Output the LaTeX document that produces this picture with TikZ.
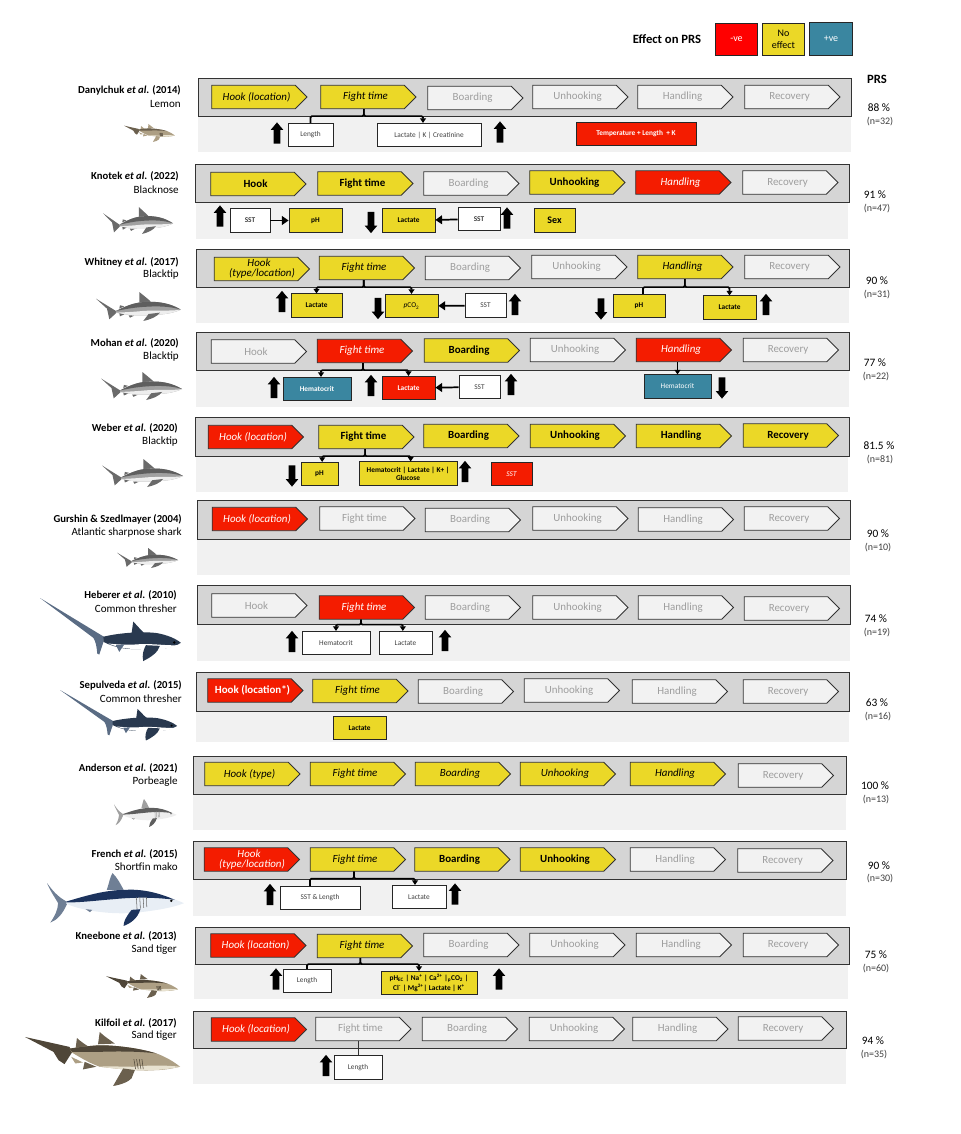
\documentclass[tikz,border=0pt]{standalone}
\usepackage{amsmath}
\usepackage{amssymb}
\usepackage{fontspec}
\setmainfont{Carlito}
\usepackage{tikz}
\usetikzlibrary{shapes.symbols,shapes.arrows,arrows.meta}
\definecolor{yel}{HTML}{EBD827}
\definecolor{rdd}{HTML}{F41C00}
\definecolor{tea}{HTML}{3A86A0}
\definecolor{barg}{HTML}{D5D5D5}
\definecolor{bandg}{HTML}{F1F1F1}
\definecolor{offg}{HTML}{F2F2F2}
\definecolor{grytop}{HTML}{5E5E5E}
\definecolor{grymid}{HTML}{A0A0A0}
\definecolor{grybel}{HTML}{EEEEEE}
\definecolor{gryfin}{HTML}{6A6A6A}
\definecolor{tantop}{HTML}{4F4638}
\definecolor{tanmid}{HTML}{AD9F84}
\definecolor{tanbel}{HTML}{E8E2D0}
\definecolor{tanfin}{HTML}{6B604E}
\definecolor{thrtop}{HTML}{29394F}
\definecolor{thrfin}{HTML}{5A6C84}
\definecolor{maktop}{HTML}{1C335D}
\definecolor{makbel}{HTML}{E8EEF5}
\definecolor{makfin}{HTML}{6F7F95}
\begin{document}
\begin{tikzpicture}[x=0.75pt,y=-0.75pt,
  chev/.style={signal,signal to=east,signal pointer angle=90,xshift=-4.1pt,draw=black!80,line width=0.6pt,minimum width=71.5pt,minimum height=17.5pt,inner sep=0pt,align=center,font=\fontsize{8.2}{8.5}\selectfont,execute at begin node={\hspace*{4.5pt}}},
  chy/.style={chev,fill=yel,text=black},
  chr/.style={chev,fill=rdd,text=white},
  chn/.style={chev,fill=offg,text=black!38},
  cbox/.style={rectangle,draw=black!85,line width=0.6pt,minimum width=#1*0.75pt,minimum height=17.5pt,inner sep=0pt,align=center,font=\fontsize{5.5}{6}\selectfont},
  whb/.style={cbox=#1,fill=white,text=black!75},
  ylb/.style={cbox=#1,fill=yel,text=black,font=\fontsize{5.5}{6}\selectfont\bfseries},
  rdb/.style={cbox=#1,fill=rdd,text=white,font=\fontsize{5.5}{6}\selectfont\bfseries},
  blb/.style={cbox=#1,fill=tea,text=white,font=\fontsize{5.5}{6}\selectfont\bfseries},
  lgd/.style={rectangle,draw=black!85,line width=0.6pt,minimum width=32pt,minimum height=24.5pt,inner sep=0pt,align=center,font=\fontsize{7.5}{9}\selectfont},
  uparr/.style={single arrow,rotate=90,fill=black,minimum height=16pt,inner sep=2.25pt,single arrow head extend=2.25pt,single arrow tip angle=80,single arrow head indent=0pt},
  dnarr/.style={uparr,rotate=180},
  bar/.style={draw=black!80,line width=0.7pt,fill=barg},
  band/.style={fill=bandg},
  conn/.style={draw=black,line width=1.2pt,rounded corners=1pt},
  ctip/.style={conn,-{Triangle[length=3.5pt,width=4.5pt]}},
  link/.style={draw=black,line width=1.3pt,-{Triangle[length=5pt,width=6.5pt]}},
  refn/.style={anchor=east,inner sep=0pt,font=\fontsize{8}{9}\selectfont\bfseries},
  spcn/.style={anchor=east,inner sep=0pt,font=\fontsize{8.3}{9}\selectfont},
  pctn/.style={inner sep=0pt,font=\fontsize{8.5}{9}\selectfont},
  cntn/.style={inner sep=0pt,text=black!75,font=\fontsize{7.5}{9}\selectfont},
  skin/.code args={#1/#2/#3/#4}{\colorlet{sktop}{#1}\colorlet{skmid}{#2}\colorlet{skbel}{#3}\colorlet{skfin}{#4}},
  shark/.pic={
    \fill[skfin] (0,20) -- (60,57) -- (62,62) -- (40,82) -- (37,68) -- (33,50) -- cycle;
    \fill[skfin] (130,32) -- (130,0) .. controls (140,8) and (155,20) .. (165,29) -- cycle;
    \fill[skfin] (70,50) -- (72,40) -- (85,43) -- cycle;
    \fill[skmid] (60,57) .. controls (85,45) and (110,32) .. (145,30) .. controls (190,27) and (225,35) .. (255,53) .. controls (235,62) and (210,67) .. (185,68) .. controls (150,72) and (100,72) .. (60,62) -- cycle;
    \fill[sktop] (60,57) .. controls (85,45) and (110,32) .. (145,30) .. controls (190,27) and (225,35) .. (255,53) .. controls (220,42) and (180,42) .. (140,45) .. controls (110,47) and (85,52) .. (60,57) -- cycle;
    \fill[skbel] (255,53) .. controls (225,58) and (180,54) .. (140,57) .. controls (110,60) and (85,61) .. (60,62) .. controls (100,72) and (150,72) .. (185,68) .. controls (210,67) and (235,62) .. (255,53) -- cycle;
    \fill[skfin] (158,66) -- (142,87) .. controls (165,82) and (182,75) .. (192,62) -- cycle;
    \fill[skfin] (70,64) -- (72,73) -- (85,67) -- cycle;
    \fill[skfin] (98,70) -- (102,77) -- (115,71) -- cycle;
  },
  thresher/.pic={
    \fill[skfin] (0,0) -- (192,115) -- (190,132) -- (178,168) -- (172,165) .. controls (170,145) and (168,130) .. (160,118) -- cycle;
    \fill[sktop] (275,105) -- (280,70) .. controls (290,80) and (300,92) .. (312,103) -- cycle;
    \fill[sktop] (190,115) .. controls (230,105) and (300,98) .. (350,104) .. controls (385,110) and (410,122) .. (423,133) .. controls (400,148) and (360,155) .. (320,150) .. controls (270,155) and (230,150) .. (190,130) -- cycle;
    \fill[skbel] (415,140) .. controls (380,142) and (340,135) .. (300,137) .. controls (265,140) and (230,138) .. (205,135) .. controls (240,150) and (290,155) .. (320,150) .. controls (360,155) and (395,150) .. (415,140) -- cycle;
    \fill[sktop] (318,140) .. controls (310,155) and (306,170) .. (310,187) .. controls (335,175) and (355,160) .. (360,142) -- cycle;
    \fill[skfin] (228,140) -- (238,160) -- (253,138) -- cycle;
    \fill[black] (403,132) circle (4);
  },
  mako/.pic={
    \fill[skfin] (0,30) .. controls (15,50) and (30,70) .. (58,85) -- (60,92) .. controls (45,125) and (30,140) .. (10,148) .. controls (25,125) and (32,110) .. (33,90) .. controls (25,75) and (10,55) .. (0,30) -- cycle;
    \fill[skfin] (178,50) .. controls (185,30) and (188,10) .. (195,0) .. controls (210,15) and (220,35) .. (228,50) -- cycle;
    \fill[skbel] (58,85) .. controls (110,70) and (170,50) .. (240,50) .. controls (300,48) and (360,70) .. (408,90) .. controls (370,105) and (320,112) .. (270,118) .. controls (200,125) and (110,115) .. (58,92) -- cycle;
    \fill[sktop] (58,85) .. controls (110,70) and (170,50) .. (240,50) .. controls (290,48) and (340,62) .. (380,80) .. controls (320,72) and (260,72) .. (200,78) .. controls (150,82) and (100,88) .. (58,88) -- cycle;
    \fill[sktop] (252,110) .. controls (235,130) and (228,145) .. (228,158) .. controls (250,150) and (270,135) .. (278,108) -- cycle;
    \fill[skfin] (115,108) -- (128,117) -- (135,110) -- cycle;
    \draw[skmid,line width=0.4pt] (266,72) -- (268,108) (276,72) -- (278,106) (286,72) -- (288,104) (296,72) -- (297,102);
    \fill[black] (370,83) circle (4);
  },
  tiger/.pic={
    \fill[sktop] (0,15) -- (133,45) -- (140,62) -- (118,97) -- (100,85) -- (85,60) -- cycle;
    \fill[skfin] (218,37) -- (223,0) .. controls (235,12) and (255,25) .. (268,35) -- cycle;
    \fill[skfin] (151,50) -- (155,18) .. controls (165,28) and (180,38) .. (191,45) -- cycle;
    \fill[skmid] (133,50) .. controls (170,45) and (190,42) .. (223,40) .. controls (270,40) and (340,48) .. (393,65) .. controls (420,75) and (445,90) .. (463,105) .. controls (440,110) and (415,115) .. (393,115) .. controls (360,118) and (330,115) .. (323,115) .. controls (280,112) and (250,108) .. (223,105) .. controls (195,95) and (170,80) .. (140,62) -- cycle;
    \fill[sktop] (133,50) .. controls (170,45) and (190,42) .. (223,40) .. controls (270,40) and (340,48) .. (393,65) .. controls (345,58) and (270,58) .. (223,60) .. controls (190,60) and (165,60) .. (140,60) -- cycle;
    \fill[skbel] (463,105) .. controls (420,100) and (370,100) .. (323,105) .. controls (280,105) and (250,102) .. (223,105) .. controls (250,108) and (280,112) .. (323,115) .. controls (360,118) and (415,115) .. (463,105) -- cycle;
    \fill[skfin] (293,110) -- (263,163) .. controls (285,160) and (310,150) .. (318,140) -- (328,115) -- cycle;
    \fill[skmid] (138,75) -- (150,95) -- (173,92) -- cycle;
    \fill[skfin] (178,90) -- (173,113) -- (213,105) -- cycle;
    \draw[sktop,line width=0.4pt] (325,82) -- (330,112) (333,82) -- (338,112) (341,82) -- (346,112) (349,82) -- (353,112);
  }]
\useasboundingbox (0,0) rectangle (960,1134);
% legend
\node [inner sep=0pt,font=\fontsize{9.5}{10}\selectfont\bfseries] (eff) at (667,39) {Effect on PRS};
\node [lgd,fill=red,text=white] (neg) at (736.5,39.5) {-ve};
\node [lgd,fill=yel] (noe) at (783.5,39.5) {No\\effect};
\node [lgd,fill=tea,text=white] (pos) at (831,39) {+ve};
\node [inner sep=0pt,font=\fontsize{9.5}{10}\selectfont\bfseries] (prs) at (877,79) {PRS};

% Danylchuk
\fill[band] (198,116) rectangle (851,152);
\draw[bar] (198,78) rectangle (851,116);
\node [refn] (t1) at (181,90) {Danylchuk \textit{et al}. (2014)};
\node [spcn] (c1) at (181,104) {Lemon};
\path (124,124) pic[skin=tanfin/tanmid/tanbel/tanmid,xscale=0.11,yscale=0.11] {tiger};
\node [chy] (h1) at (259,97) {\textit{Hook (location)}};
\node [chy] (f1) at (368,97) {\textit{Fight time}};
\node [chn] (bd1) at (475,98) {Boarding};
\node [chn] (u1) at (580,97) {Unhooking};
\node [chn] (hd1) at (685,97) {Handling};
\node [chn] (r1) at (792,97) {Recovery};
\node [uparr] (a1a) at (277,135) {};
\node [whb=45] (ln1) at (310.5,135) {Length};
\node [whb=104] (lk1) at (429,135) {Lactate | K | Creatinine};
\node [uparr] (a1b) at (500,134) {};
\node [rdb=120] (tp1) at (636,134) {Temperature + Length\ \ + K};
\draw[conn] ([xshift=1pt]f1.south) -- ++(0,7) -| (ln1.north);
\draw[ctip] ([xshift=1pt]f1.south) -- ++(0,7) -| ([xshift=-4.5pt]lk1.north);
\node [pctn] (p1) at (879,108) {88 \%};
\node [cntn] (n1) at (880,122) {(n=32)};

% Knotek
\fill[band] (196,202) rectangle (848,239);
\draw[bar] (195,164) rectangle (849,202);
\node [refn] (t2) at (179,176) {Knotek \textit{et al}. (2022)};
\node [spcn] (c2) at (179,190) {Blacknose};
\path (103,207) pic[skin=grytop/grymid/grybel/gryfin,xscale=0.275,yscale=0.31] {shark};
\node [chy] (h2) at (258,184) {\textbf{Hook}};
\node [chy] (f2) at (365,183.5) {\textbf{Fight time}};
\node [chn] (bd2) at (471,183.5) {Boarding};
\node [chy] (u2) at (577,182.5) {\textbf{Unhooking}};
\node [chr] (hd2) at (683,182.5) {\textit{Handling}};
\node [chn] (r2) at (790,182.5) {Recovery};
\node [uparr] (a2a) at (220,218) {};
\node [whb=40,font=\fontsize{5.5}{6}\selectfont\bfseries] (s2a) at (250,220.5) {SST};
\node [ylb=53] (ph2) at (315.5,220.5) {pH};
\node [dnarr] (a2b) at (371,220.5) {};
\node [ylb=53] (lc2) at (408.5,220.5) {Lactate};
\node [whb=42,font=\fontsize{5.5}{6}\selectfont\bfseries] (s2b) at (479,219) {SST};
\node [uparr] (a2c) at (507,220) {};
\node [ylb=41,font=\fontsize{7.5}{8}\selectfont\bfseries] (sx2) at (554.5,220.5) {Sex};
\draw[link] (s2a) -- (ph2);
\draw[link] (s2b) -- (lc2);
\node [pctn] (p2) at (875,195) {91 \%};
\node [cntn] (n2) at (877,209) {(n=47)};

% Whitney
\fill[band] (196,287) rectangle (849,323);
\draw[bar] (196,249) rectangle (849,287);
\node [refn] (t3) at (179,262) {Whitney \textit{et al}. (2017)};
\node [spcn] (c3) at (179,275) {Blacktip};
\path (96,292) pic[skin=grytop/grymid/grybel/gryfin,xscale=0.333,yscale=0.333] {shark};
\node [chy] (h3) at (261.5,269) {\textit{Hook}\\[-1pt]\hspace*{4.5pt}\textit{(type/location)}};
\node [chy] (f3) at (366.5,268) {\textit{Fight time}};
\node [chn] (bd3) at (472.5,268) {Boarding};
\node [chn] (u3) at (579,267) {Unhooking};
\node [chy] (hd3) at (685,267) {\textit{Handling}};
\node [chn] (r3) at (792,267) {Recovery};
\node [uparr] (a3a) at (282,303.5) {};
\node [ylb=51] (lc3a) at (316.5,305.5) {Lactate};
\node [dnarr] (a3b) at (378,306.5) {};
\node [ylb=53,font=\fontsize{5.5}{6}\selectfont] (pc3) at (411.5,306) {\textit{p}CO\textsubscript{2}};
\node [whb=41] (s3) at (485.5,305.5) {SST};
\node [uparr] (a3c) at (515,306.5) {};
\node [dnarr] (a3d) at (601,307) {};
\node [ylb=52] (ph3) at (639,306) {pH};
\node [ylb=53] (lc3b) at (729.5,307.5) {Lactate};
\node [uparr] (a3e) at (766,306.5) {};
\draw[ctip] ([xshift=2pt]f3.south) -- ++(0,7) -| (lc3a.north);
\draw[ctip] ([xshift=2pt]f3.south) -- ++(0,7) -| (pc3.north);
\draw[conn] ([xshift=4pt]hd3.south) -- ++(0,8) -| ([xshift=3pt]ph3.north);
\draw[ctip] ([xshift=4pt]hd3.south) -- ++(0,8) -| (lc3b.north);
\draw[link] (s3) -- (pc3);
\node [pctn] (p3) at (877,281) {90 \%};
\node [cntn] (n3) at (877,295) {(n=31)};

% Mohan
\fill[band] (196,370) rectangle (849,407);
\draw[bar] (196,332) rectangle (849,370);
\node [refn] (t4) at (179,343) {Mohan \textit{et al}. (2020)};
\node [spcn] (c4) at (179,357) {Blacktip};
\path (101,372) pic[skin=grytop/grymid/grybel/gryfin,xscale=0.318,yscale=0.322] {shark};
\node [chn] (h4) at (258.5,351.5) {Hook};
\node [chr] (f4) at (364.5,351) {\textit{Fight time}};
\node [chy] (bd4) at (471.5,350.5) {\textbf{Boarding}};
\node [chn] (u4) at (577.5,350) {Unhooking};
\node [chr] (hd4) at (683.5,350) {\textit{Handling}};
\node [chn] (r4) at (790.5,350) {Recovery};
\node [uparr] (a4a) at (274,389.5) {};
\node [blb=68] (hm4a) at (317,389) {Hematocrit};
\node [uparr] (a4b) at (371,387.5) {};
\node [rdb=53] (lc4) at (408.5,388) {Lactate};
\node [whb=41] (s4) at (479.5,387) {SST};
\node [uparr] (a4c) at (511,386.5) {};
\node [blb=67,font=\fontsize{5.5}{6}\selectfont] (hm4b) at (677.5,386.5) {Hematocrit};
\node [dnarr] (a4d) at (722,386) {};
\draw[ctip] ([xshift=3pt]f4.south) -- ++(0,7) -| ([xshift=3pt]hm4a.north);
\draw[ctip] ([xshift=3pt]f4.south) -- ++(0,7) -| (lc4.north);
\draw[ctip] (hm4b.north |- hd4.south) -- (hm4b.north);
\draw[link] (s4) -- (lc4);
\node [pctn] (p4) at (875,363) {77 \%};
\node [cntn] (n4) at (876,377) {(n=22)};

% Weber
\fill[band] (196,456) rectangle (848,492);
\draw[bar] (195,417) rectangle (849,456);
\node [refn] (t5) at (178,428) {Weber \textit{et al}. (2020)};
\node [spcn] (c5) at (178,442) {Blacktip};
\path (102,459) pic[skin=grytop/grymid/grybel/gryfin,xscale=0.318,yscale=0.322] {shark};
\node [chr] (h5) at (255.5,437) {\textit{Hook (location)}};
\node [chy] (f5) at (366,437) {\textbf{Fight time}};
\node [chy] (bd5) at (471,436) {\textbf{Boarding}};
\node [chy] (u5) at (577.5,436) {\textbf{Unhooking}};
\node [chy] (hd5) at (683.5,436) {\textbf{Handling}};
\node [chy] (r5) at (790.5,435.5) {\textbf{Recovery}};
\node [dnarr] (a5a) at (292,474) {};
\node [ylb=37] (ph5) at (319.5,474) {pH};
\node [ylb=98] (hm5) at (408,473.5) {Hematocrit | Lactate | K+ |\\Glucose};
\node [uparr] (a5b) at (465,473.5) {};
\node [rdb=41,font=\fontsize{5.5}{6}\selectfont\itshape] (s5) at (511.5,474) {SST};
\draw[ctip] ([xshift=3.4pt]f5.south) -- ++(0,7) -| ([xshift=2pt]ph5.north);
\draw[ctip] ([xshift=3.4pt]f5.south) -- ++(0,7) -| ([xshift=2pt]hm5.north);
\node [pctn] (p5) at (879,446) {81.5 \%};
\node [cntn] (n5) at (880,460) {(n=81)};

% Gurshin
\fill[band] (197,539) rectangle (850,575);
\draw[bar] (197,500) rectangle (850,539);
\node [refn] (t6) at (182,519) {Gurshin \& Szedlmayer (2004)};
\node [spcn] (c6) at (182,533) {Atlantic sharpnose shark};
\path (117,548) pic[skin=grytop/grymid/grybel/gryfin,xscale=0.24,yscale=0.23] {shark};
\node [chr] (h6) at (259.5,519) {\textit{Hook (location)}};
\node [chn] (f6) at (367,518.5) {Fight time};
\node [chn] (bd6) at (472.5,520) {Boarding};
\node [chn] (u6) at (580,518.5) {Unhooking};
\node [chn] (hd6) at (685.5,519.5) {Handling};
\node [chn] (r6) at (791.5,518.5) {Recovery};
\node [pctn] (p6) at (878,534) {90 \%};
\node [cntn] (n6) at (878,548) {(n=10)};

% Heberer
\fill[band] (197,624) rectangle (850,661);
\draw[bar] (197,585) rectangle (850,624);
\node [refn] (t7) at (177,595) {Heberer \textit{et al}. (2010)};
\node [spcn] (c7) at (177,609) {Common thresher};
\path (40,598) pic[skin=thrtop/thrfin/white/thrfin,xscale=0.333,yscale=0.337] {thresher};
\node [chn] (h7) at (259,605.5) {Hook};
\node [chr] (f7) at (366.5,607.5) {\textit{Fight time}};
\node [chn] (bd7) at (472.5,607.5) {Boarding};
\node [chn] (u7) at (580,607.5) {Unhooking};
\node [chn] (hd7) at (685.5,607.5) {Handling};
\node [chn] (r7) at (791.5,608.5) {Recovery};
\node [uparr] (a7a) at (292,643.5) {};
\node [whb=68] (hm7) at (336,643) {Hematocrit};
\node [whb=53] (lc7) at (405.5,643) {Lactate};
\node [uparr] (a7b) at (445,642.5) {};
\draw[ctip] (f7.south) -- ++(0,5) -| (hm7.north);
\draw[ctip] (f7.south) -- ++(0,5) -| ([xshift=-2pt]lc7.north);
\node [pctn] (p7) at (876,619) {74 \%};
\node [cntn] (n7) at (877,633) {(n=19)};

% Sepulveda
\fill[band] (196,711) rectangle (849,742);
\draw[bar] (196,672) rectangle (849,711);
\node [refn] (t8) at (182,685) {Sepulveda \textit{et al}. (2015)};
\node [spcn] (c8) at (182,699) {Common thresher};
\path (60,690) pic[skin=thrtop/thrfin/white/thrfin,xscale=0.277,yscale=0.27] {thresher};
\node [chr] (h8) at (255,690.5) {\textbf{Hook (location*)}};
\node [chy] (f8) at (360,691) {\textit{Fight time}};
\node [chn] (bd8) at (465.5,691.5) {Boarding};
\node [chn] (u8) at (571.5,690.5) {Unhooking};
\node [chn] (hd8) at (679.5,691.5) {Handling};
\node [chn] (r8) at (790.5,691.5) {Recovery};
\node [ylb=53] (lc8) at (359.5,728) {Lactate};
\node [pctn] (p8) at (877,703) {63 \%};
\node [cntn] (n8) at (878,717) {(n=16)};

% Anderson
\fill[band] (193,794) rectangle (846,830);
\draw[bar] (193,756) rectangle (846,794);
\node [refn] (t9) at (178,768) {Anderson \textit{et al}. (2021)};
\node [spcn] (c9) at (178,782) {Porbeagle};
\path (114,799) pic[skin=grytop/grymid/grybel/grymid,xscale=0.154,yscale=0.177] {mako};
\node [chy] (h9) at (252,774) {\textit{Hook (type)}};
\node [chy] (f9) at (357.5,774) {\textit{Fight time}};
\node [chy] (bd9) at (462.5,774) {\textit{Boarding}};
\node [chy] (u9) at (567.5,774) {\textit{Unhooking}};
\node [chy] (hd9) at (677.5,774) {\textit{Handling}};
\node [chn] (r9) at (785.5,775.5) {Recovery};
\node [pctn] (p9) at (875,786) {100 \%};
\node [cntn] (n9) at (876,800) {(n=13)};

% French
\fill[band] (193,879) rectangle (846,916);
\draw[bar] (193,841) rectangle (846,879);
\node [refn] (t10) at (178,854) {French \textit{et al}. (2015)};
\node [spcn] (c10) at (178,867) {Shortfin mako};
\path (47,873) pic[skin=maktop/black!60/makbel/makfin,xscale=0.336,yscale=0.335] {mako};
\node [chr] (h10) at (251.5,859.5) {\textit{Hook}\\[-1pt]\hspace*{4.5pt}\textit{(type/location)}};
\node [chy] (f10) at (357.5,859.5) {\textit{Fight time}};
\node [chy] (bd10) at (462,859.5) {\textbf{Boarding}};
\node [chy] (u10) at (567.5,859.5) {\textbf{Unhooking}};
\node [chn] (hd10) at (677.5,859.5) {Handling};
\node [chn] (r10) at (785,860.5) {Recovery};
\node [uparr] (a10a) at (270,896.5) {};
\node [whb=80] (sl10) at (320,898) {SST \& Length};
\node [whb=54] (lc10) at (419,897) {Lactate};
\node [uparr] (a10b) at (455,896) {};
\draw[conn] ([xshift=1.5pt]f10.south) -- ++(0,7) -| ([xshift=-7.5pt]sl10.north);
\draw[ctip] ([xshift=1.5pt]f10.south) -- ++(0,7) -| ([xshift=-3pt]lc10.north);
\node [pctn] (p10) at (879,866) {90 \%};
\node [cntn] (n10) at (880,879) {(n=30)};

% Kneebone
\fill[band] (194,964) rectangle (848,999);
\draw[bar] (195,927) rectangle (849,964);
\node [refn] (t11) at (177,936) {Kneebone \textit{et al}. (2013)};
\node [spcn] (c11) at (177,950) {Sand tiger};
\path (106,974) pic[skin=tantop/tanmid/tanbel/tanfin,xscale=0.156,yscale=0.147] {tiger};
\node [chr] (h11) at (258,945.5) {\textit{Hook (location)}};
\node [chy] (f11) at (364.5,946) {\textit{Fight time}};
\node [chn] (bd11) at (471,945) {Boarding};
\node [chn] (u11) at (577,945) {Unhooking};
\node [chn] (hd11) at (683.5,945) {Handling};
\node [chn] (r11) at (790.5,945) {Recovery};
\node [uparr] (a11a) at (276,981) {};
\node [whb=48] (ln11) at (307,981) {Length};
\node [ylb=96] (mx11) at (429,983) {pH\textsubscript{EC} | Na\textsuperscript{+} | Ca\textsuperscript{2+} |\textsubscript{p}CO\textsubscript{2} |\\Cl\textsuperscript{-} | Mg\textsuperscript{2+}| Lactate | K\textsuperscript{+}};
\node [uparr] (a11b) at (499,981) {};
\draw[conn] ([xshift=1pt]f11.south) -- ++(0,6) -| (ln11.north);
\draw[ctip] ([xshift=1pt]f11.south) -- ++(0,6) -| ([xshift=-7.5pt]mx11.north);
\node [pctn] (p11) at (876,955) {75 \%};
\node [cntn] (n11) at (876,969) {(n=60)};

% Kilfoil
\fill[band] (193,1048) rectangle (846,1084);
\draw[bar] (193,1011) rectangle (846,1048);
\node [refn] (t12) at (177,1023) {Kilfoil \textit{et al}. (2017)};
\node [spcn] (c12) at (177,1036) {Sand tiger};
\path (25,1032) pic[skin=tantop/tanmid/tanbel/tanfin,xscale=0.335,yscale=0.331] {tiger};
\node [chr] (h12) at (258.5,1029.5) {\textit{Hook (location)}};
\node [chn] (f12) at (363,1029) {Fight time};
\node [chn] (bd12) at (469.5,1029) {Boarding};
\node [chn] (u12) at (576.5,1029) {Unhooking};
\node [chn] (hd12) at (680,1029) {Handling};
\node [chn] (r12) at (785.5,1028.5) {Recovery};
\node [uparr] (a12a) at (326,1067.5) {};
\node [whb=48] (ln12) at (358,1067.5) {Length};
\draw[draw=black!80,line width=0.5pt] (ln12.north |- f12.south) -- (ln12.north);
\node [pctn] (p12) at (873,1041) {94 \%};
\node [cntn] (n12) at (874,1055) {(n=35)};
\end{tikzpicture}
\end{document}
